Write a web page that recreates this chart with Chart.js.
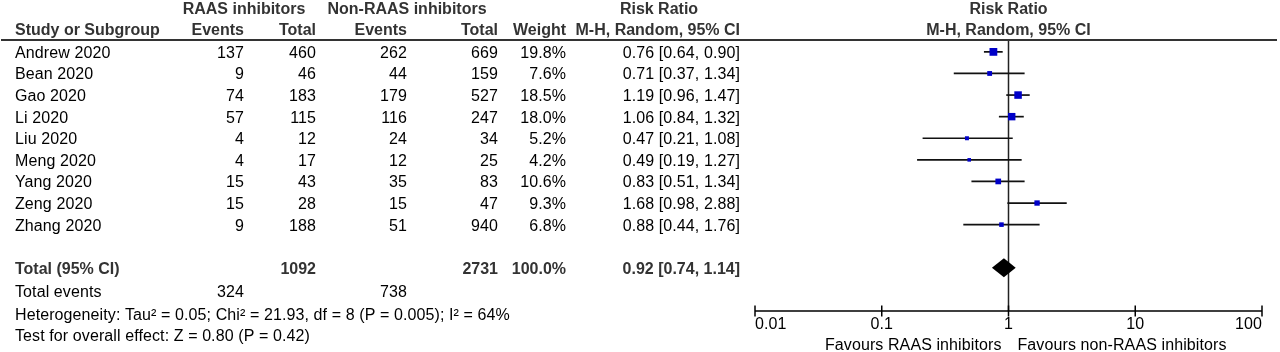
<!DOCTYPE html>
<html>
<head>
<meta charset="utf-8">
<script src="https://cdn.jsdelivr.net/npm/chart.js@4"></script>
<style>
  html, body { margin: 0; padding: 0; background: #fff; }
  #wrap { width: 1280px; height: 352px; position: relative; }
</style>
</head>
<body>
<div id="wrap"><canvas id="forest" width="1280" height="352"></canvas></div>
<script>
// Forest plot - RAAS inhibitors vs non-RAAS inhibitors (risk ratio, random effects)

const studies = ['Andrew 2020', 'Bean 2020', 'Gao 2020', 'Li 2020', 'Liu 2020', 'Meng 2020', 'Yang 2020', 'Zeng 2020', 'Zhang 2020'];
const raasEvents = [137, 9, 74, 57, 4, 4, 15, 15, 9];
const raasTotal = [460, 46, 183, 115, 12, 17, 43, 28, 188];
const nonEvents = [262, 44, 179, 116, 24, 12, 35, 15, 51];
const nonTotal = [669, 159, 527, 247, 34, 25, 83, 47, 940];
const weights = [19.8, 7.6, 18.5, 18.0, 5.2, 4.2, 10.6, 9.3, 6.8];
const riskRatio = [0.76, 0.71, 1.19, 1.06, 0.47, 0.49, 0.83, 1.68, 0.88];
const ciLow = [0.64, 0.37, 0.96, 0.84, 0.21, 0.19, 0.51, 0.98, 0.44];
const ciHigh = [0.90, 1.34, 1.47, 1.32, 1.08, 1.27, 1.34, 2.88, 1.76];
const pooled = [0.92, 0.74, 1.14];           // estimate, lower, upper
const totals = [1092, 2731];                 // RAAS total, non-RAAS total
const totalEvents = [324, 738];
const axisTicks = [0.01, 0.1, 1, 10, 100];
const tickLabels = ['0.01', '0.1', '1', '10', '100'];

const FONT = "'Liberation Sans', Arial, sans-serif";
const HEAD = '#333333';
const TOTAL_ROW = 10;

// column right edges of the left table
const col = { study: 15, rEv: 244, rTot: 316, nEv: 407, nTot: 498, weight: 566, rr: 740 };

function fmtRR(v, lo, hi) {
    return v.toFixed(2) + ' [' + lo.toFixed(2) + ', ' + hi.toFixed(2) + ']';
}

function txt(ctx, s, x, y, align, bold, color) {
    ctx.font = (bold ? 'bold ' : '') + '16px ' + FONT;
    ctx.letterSpacing = bold ? '0px' : '0.1px';
    ctx.textAlign = align;
    ctx.textBaseline = 'alphabetic';
    ctx.fillStyle = color;
    ctx.fillText(s, x, y);
}

const forestDecor = {
    id: 'forestDecor',
    beforeDatasetsDraw(chart) {
        const ctx = chart.ctx;
        const xs = chart.scales.x, ys = chart.scales.y;
        const area = chart.chartArea;
        ctx.save();
        // header rule
        ctx.strokeStyle = HEAD;
        ctx.lineWidth = 2;
        ctx.beginPath(); ctx.moveTo(1, 40); ctx.lineTo(1277, 40); ctx.stroke();
        // line of no effect
        const x1 = xs.getPixelForValue(1);
        ctx.strokeStyle = '#222';
        ctx.lineWidth = 1.5;
        ctx.beginPath(); ctx.moveTo(x1, 41); ctx.lineTo(x1, area.bottom); ctx.stroke();
        // confidence intervals
        ctx.strokeStyle = '#111';
        ctx.lineWidth = 1.7;
        studies.forEach((s, i) => {
            const y = ys.getPixelForValue(i);
            ctx.beginPath();
            ctx.moveTo(xs.getPixelForValue(ciLow[i]), y);
            ctx.lineTo(xs.getPixelForValue(ciHigh[i]), y);
            ctx.stroke();
        });
        // pooled diamond
        const yd = ys.getPixelForValue(TOTAL_ROW);
        ctx.fillStyle = '#000';
        ctx.beginPath();
        ctx.moveTo(xs.getPixelForValue(pooled[1]), yd);
        ctx.lineTo(xs.getPixelForValue(pooled[0]), yd - 9.5);
        ctx.lineTo(xs.getPixelForValue(pooled[2]), yd);
        ctx.lineTo(xs.getPixelForValue(pooled[0]), yd + 9.5);
        ctx.closePath();
        ctx.fill();
        ctx.restore();
    },
    afterDraw(chart) {
        const ctx = chart.ctx;
        const xs = chart.scales.x, ys = chart.scales.y;
        const ay = chart.chartArea.bottom;
        ctx.save();
        // x axis
        ctx.strokeStyle = '#000';
        ctx.lineWidth = 1.5;
        ctx.beginPath();
        ctx.moveTo(xs.getPixelForValue(axisTicks[0]), ay);
        ctx.lineTo(xs.getPixelForValue(axisTicks[axisTicks.length - 1]), ay);
        axisTicks.forEach(t => {
            const x = xs.getPixelForValue(t);
            ctx.moveTo(x, ay - 5.5); ctx.lineTo(x, ay + 5.5);
        });
        ctx.stroke();
        axisTicks.forEach((t, i) => {
            const x = xs.getPixelForValue(t);
            const align = i === 0 ? 'left' : (i === axisTicks.length - 1 ? 'right' : 'center');
            txt(ctx, tickLabels[i], x, 329, align, false, '#000');
        });
        const x1 = xs.getPixelForValue(1);
        txt(ctx, 'Favours RAAS inhibitors', x1 - 7, 350, 'right', false, '#000');
        txt(ctx, 'Favours non-RAAS inhibitors', x1 + 9, 350, 'left', false, '#000');

        // table headers
        txt(ctx, 'RAAS inhibitors', 244, 13.5, 'center', true, HEAD);
        txt(ctx, 'Non-RAAS inhibitors', 407, 13.5, 'center', true, HEAD);
        txt(ctx, 'Risk Ratio', 659, 13.5, 'center', true, HEAD);
        txt(ctx, 'Risk Ratio', x1, 13.5, 'center', true, HEAD);
        txt(ctx, 'Study or Subgroup', col.study, 35, 'left', true, HEAD);
        txt(ctx, 'Events', col.rEv, 35, 'right', true, HEAD);
        txt(ctx, 'Total', col.rTot, 35, 'right', true, HEAD);
        txt(ctx, 'Events', col.nEv, 35, 'right', true, HEAD);
        txt(ctx, 'Total', col.nTot, 35, 'right', true, HEAD);
        txt(ctx, 'Weight', col.weight, 35, 'right', true, HEAD);
        txt(ctx, 'M-H, Random, 95% CI', col.rr, 35, 'right', true, HEAD);
        txt(ctx, 'M-H, Random, 95% CI', x1, 35, 'center', true, HEAD);

        // study rows
        studies.forEach((s, i) => {
            const y = ys.getPixelForValue(i) + 6;
            txt(ctx, s, col.study, y, 'left', false, '#000');
            txt(ctx, String(raasEvents[i]), col.rEv, y, 'right', false, '#000');
            txt(ctx, String(raasTotal[i]), col.rTot, y, 'right', false, '#000');
            txt(ctx, String(nonEvents[i]), col.nEv, y, 'right', false, '#000');
            txt(ctx, String(nonTotal[i]), col.nTot, y, 'right', false, '#000');
            txt(ctx, weights[i].toFixed(1) + '%', col.weight, y, 'right', false, '#000');
            txt(ctx, fmtRR(riskRatio[i], ciLow[i], ciHigh[i]), col.rr, y, 'right', false, '#000');
        });

        // totals
        let y = ys.getPixelForValue(TOTAL_ROW) + 6;
        txt(ctx, 'Total (95% CI)', col.study, y, 'left', true, HEAD);
        txt(ctx, String(totals[0]), col.rTot, y, 'right', true, HEAD);
        txt(ctx, String(totals[1]), col.nTot, y, 'right', true, HEAD);
        txt(ctx, '100.0%', col.weight, y, 'right', true, HEAD);
        txt(ctx, fmtRR(pooled[0], pooled[1], pooled[2]), col.rr, y, 'right', true, HEAD);
        y = 297;
        txt(ctx, 'Total events', col.study, y, 'left', false, '#000');
        txt(ctx, String(totalEvents[0]), col.rEv, y, 'right', false, '#000');
        txt(ctx, String(totalEvents[1]), col.nEv, y, 'right', false, '#000');
        txt(ctx, 'Heterogeneity: Tau\u00b2 = 0.05; Chi\u00b2 = 21.93, df = 8 (P = 0.005); I\u00b2 = 64%', col.study, 320, 'left', false, '#000');
        txt(ctx, 'Test for overall effect: Z = 0.80 (P = 0.42)', col.study, 341, 'left', false, '#000');
        ctx.restore();
    }
};

function init() {
    const ctx = document.getElementById('forest').getContext('2d');
    new Chart(ctx, {
        type: 'scatter',
        data: {
            datasets: [{
                data: riskRatio.map((v, i) => ({ x: v, y: i })),
                pointStyle: 'rect',
                pointRadius: weights.map(w => 1.75 * Math.sqrt(w) / Math.SQRT2),
                backgroundColor: '#0000c8',
                borderWidth: 0
            }]
        },
        options: {
            responsive: false,
            animation: false,
            events: [],
            layout: { padding: { left: 755, right: 18, top: 40, bottom: 41 } },
            plugins: { legend: { display: false }, tooltip: { enabled: false } },
            scales: {
                x: { type: 'logarithmic', min: 0.01, max: 100, display: false },
                y: { type: 'linear', min: -0.55, max: 12, reverse: true, display: false }
            }
        },
        plugins: [forestDecor]
    });
}
init();
</script>
</body>
</html>
